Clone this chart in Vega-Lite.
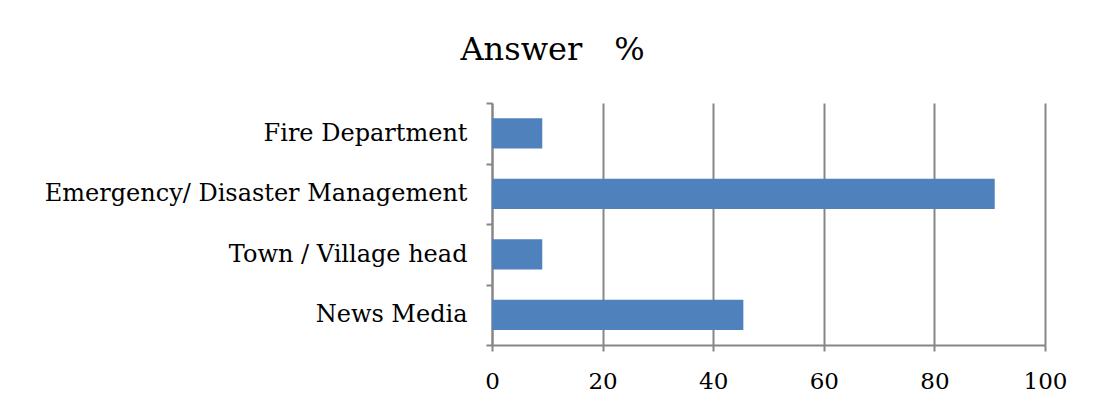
{
  "$schema": "https://vega.github.io/schema/vega-lite/v6.json",
  "width": 553,
  "height": 242,
  "autosize": {"type": "none"},
  "padding": {"left": 492, "top": 103, "right": 49, "bottom": 63},
  "background": "white",
  "title": {
    "text": "Answer　%",
    "font": "DejaVu Serif",
    "fontSize": 32,
    "fontWeight": "normal",
    "color": "black",
    "anchor": "middle",
    "frame": "bounds",
    "offset": 24,
    "dx": -3
  },
  "data": {
    "values": [
      {"category": "Fire Department", "value": 9.09},
      {"category": "Emergency/ Disaster Management", "value": 90.91},
      {"category": "Town / Village head", "value": 9.09},
      {"category": "News Media", "value": 45.45}
    ]
  },
  "mark": {"type": "bar", "color": "#4f81bd", "height": {"band": 0.5}},
  "encoding": {
    "y": {
      "field": "category",
      "type": "nominal",
      "sort": null,
      "scale": {"paddingInner": 0, "paddingOuter": 0},
      "axis": {
        "title": null,
        "tickBand": "extent",
        "domainColor": "#868686",
        "domainWidth": 2,
        "tickColor": "#868686",
        "tickWidth": 2,
        "tickSize": 6,
        "labelFont": "DejaVu Serif",
        "labelFontSize": 24,
        "labelColor": "black",
        "labelPadding": 19,
        "labelLimit": 600
      }
    },
    "x": {
      "field": "value",
      "type": "quantitative",
      "scale": {"domain": [0, 100], "nice": false},
      "axis": {
        "title": null,
        "values": [0, 20, 40, 60, 80, 100],
        "grid": true,
        "gridColor": "#868686",
        "gridWidth": 2,
        "domainColor": "#868686",
        "domainWidth": 2,
        "tickColor": "#868686",
        "tickWidth": 2,
        "tickSize": 6,
        "labelFont": "DejaVu Serif",
        "labelFontSize": 23,
        "labelColor": "black",
        "labelPadding": 19,
        "labelFlush": false
      }
    }
  },
  "config": {"view": {"stroke": null}}
}
